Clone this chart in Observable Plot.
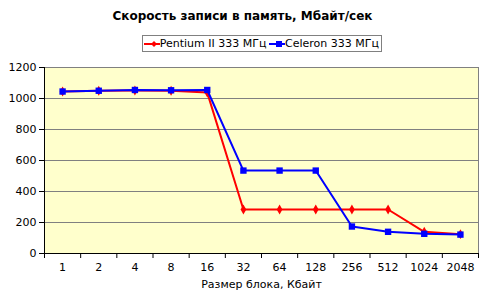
<!DOCTYPE html>
<html><head><meta charset="utf-8">
<script src="https://cdn.jsdelivr.net/npm/d3@7"></script>
<script src="https://cdn.jsdelivr.net/npm/@observablehq/plot@0.6"></script>
<style>
body{margin:0;background:#fff;font-family:"DejaVu Sans",Verdana,sans-serif;}
#wrap{position:relative;width:485px;height:302px;}
#title{position:absolute;left:0;width:485px;top:9px;text-align:center;font-weight:bold;font-size:12px;}
#legend{position:absolute;left:142px;top:35px;width:238px;height:15px;border:1px solid #808080;font-size:11px;display:flex;align-items:center;white-space:nowrap;}
#legend svg{display:block}
#legend span{margin-right:2px}
#chart{position:absolute;left:0;top:0;}
</style></head>
<body><div id="wrap"><div id="title"></div><div id="legend"></div><div id="chart"></div></div>
<script>
const title = "Скорость записи в память, Мбайт/сек";
const xLabel = "Размер блока, Кбайт";
const categories = ["1","2","4","8","16","32","64","128","256","512","1024","2048"];
const seriesNames = ["Pentium II 333 МГц","Celeron 333 МГц"];
const pentium = [1045,1050,1052,1050,1038,284,284,284,284,284,140,125];
const celeron = [1045,1050,1055,1053,1055,535,535,535,174,140,127,122];
const yTicks = [0,200,400,600,800,1000,1200];

document.getElementById("title").textContent = title;
const leg = document.getElementById("legend");
const colors = ["#FF0000","#0000FF"];
seriesNames.forEach((n,i)=>{
  const s = d3.create("svg").attr("width",22).attr("height",12);
  s.append("line").attr("x1",1).attr("x2",21).attr("y1",6).attr("y2",6).attr("stroke",colors[i]).attr("stroke-width",2);
  if(i===0) s.append("path").attr("d","M11,3L14,6L11,9L8,6Z").attr("fill",colors[i]);
  else s.append("rect").attr("x",8).attr("y",3).attr("width",6).attr("height",6).attr("fill",colors[i]);
  leg.appendChild(s.node());
  const t = document.createElement("span"); t.textContent = n; leg.appendChild(t);
});

const data = [];
categories.forEach((c,i)=>{
  data.push({i, s:seriesNames[0], v:pentium[i]});
  data.push({i, s:seriesNames[1], v:celeron[i]});
});
const pData = data.filter(d=>d.s===seriesNames[0]);
const cData = data.filter(d=>d.s===seriesNames[1]);
const bounds = d3.range(categories.length+1).map(i=>i-0.5);

const chart = Plot.plot({
  width:485, height:302,
  marginLeft:44, marginRight:7, marginTop:67, marginBottom:49,
  style:{fontFamily:"DejaVu Sans, Verdana, sans-serif", fontSize:"11px", color:"#000", background:"transparent"},
  x:{type:"linear", domain:[-0.5, categories.length-0.5]},
  y:{domain:[0,1200]},
  marks:[
    Plot.frame({fill:"#FFFFCC", stroke:"#808080"}),
    Plot.gridY(yTicks.filter(t=>t>0), {stroke:"#808080", strokeOpacity:1}),
    Plot.ruleX([-0.5], {stroke:"#000"}),
    Plot.ruleY([0], {stroke:"#000"}),
    Plot.axisY(yTicks, {tickSize:5, stroke:"#000", tickPadding:3, label:null, fontSize:11, tickFormat:d3.format("d")}),
    Plot.axisX(bounds, {tickSize:5, stroke:"#000", tickFormat:()=>"", label:null}),
    Plot.axisX(d3.range(categories.length), {tickSize:0, tickPadding:10, tickFormat:i=>categories[i], label:null, fontSize:11}),
    Plot.text([xLabel], {frameAnchor:"bottom", dy:34, fontSize:11}),
    Plot.line(pData, {x:"i", y:"v", stroke:colors[0], strokeWidth:2}),
    Plot.dot(pData, {x:"i", y:"v", symbol:"diamond", fill:colors[0], r:3}),
    Plot.line(cData, {x:"i", y:"v", stroke:colors[1], strokeWidth:2}),
    Plot.dot(cData, {x:"i", y:"v", symbol:"square", fill:colors[1], r:3.6})
  ]
});
document.getElementById("chart").appendChild(chart);
</script></body></html>
